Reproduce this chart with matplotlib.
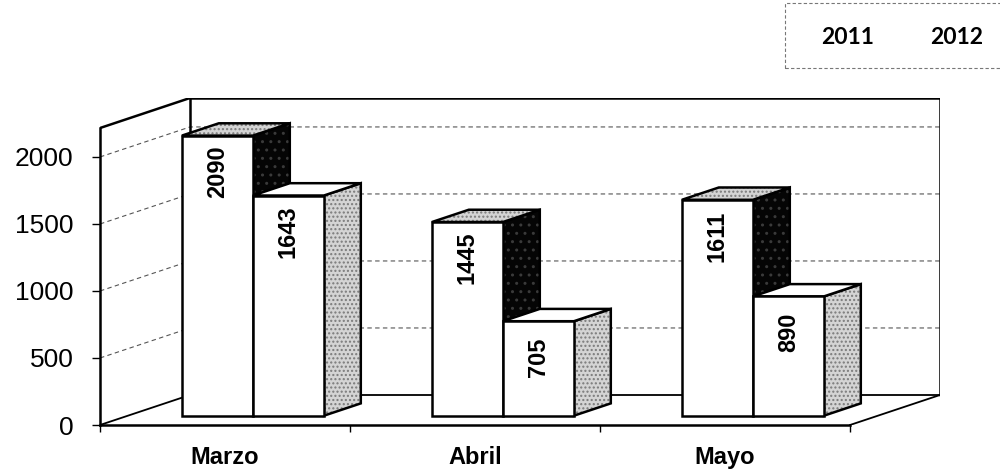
import matplotlib.pyplot as plt
from matplotlib.patches import Polygon, Rectangle

# data
months = ["Marzo", "Abril", "Mayo"]
series_names = ["2011", "2012"]
values_2011 = [2090, 1445, 1611]
values_2012 = [1643, 705, 890]

# pseudo-3D geometry (data units)
bar_w = 0.284
depth_dx, depth_dy = 0.36, 224      # full depth of the floor
bar_front = 0.31                     # where bar fronts sit inside the depth
bar_depth = 0.41                     # bar thickness as share of the depth
wall_top = 2216
yticks = [0, 500, 1000, 1500, 2000]

plt.rcParams["font.family"] = ["Liberation Sans", "DejaVu Sans"]

fig = plt.figure(figsize=(10, 4.69), dpi=100)
ax = fig.add_axes([0.1, 44 / 469, 0.84, 327 / 469])
ax.set_xlim(-0.5, 2.5 + depth_dx)
ax.set_ylim(0, wall_top + depth_dy)

x0, x1 = -0.5, len(months) - 0.5
bx0 = x0 + depth_dx

# walls / box edges
edge = dict(color="black", lw=1.8, zorder=2, solid_capstyle="round")
ax.plot([x0, bx0], [wall_top, wall_top + depth_dy], **edge)
ax.plot([bx0, bx0], [depth_dy, wall_top + depth_dy], **edge)
ax.plot([bx0, x1 + depth_dx], [wall_top + depth_dy] * 2, **edge)
ax.plot([x1 + depth_dx] * 2, [depth_dy, wall_top + depth_dy], **edge)
ax.plot([x0, bx0], [0, depth_dy], color="black", lw=1.3, zorder=2)
ax.plot([bx0, x1 + depth_dx], [depth_dy, depth_dy], color="black", lw=1.3, zorder=2)
ax.plot([x1, x1 + depth_dx], [0, depth_dy], color="black", lw=1.3, zorder=2)

# gridlines on left and back walls
for v in yticks[1:]:
    ax.plot([x0, bx0, x1 + depth_dx], [v, v + depth_dy, v + depth_dy],
            color="#555555", lw=0.8, ls=(0, (4, 3)), zorder=1)

ddx, ddy = bar_depth * depth_dx, bar_depth * depth_dy
base = bar_front * depth_dy
shift = bar_front * depth_dx


def draw_bar(x, v, side_style, top_style):
    top = base + v
    side = Polygon([(x + bar_w, base), (x + bar_w + ddx, base + ddy),
                    (x + bar_w + ddx, top + ddy), (x + bar_w, top)], **side_style)
    lid = Polygon([(x, top), (x + ddx, top + ddy),
                   (x + bar_w + ddx, top + ddy), (x + bar_w, top)], **top_style)
    for p in (side, lid):
        ax.add_patch(p)
        ax.add_patch(Polygon(p.get_xy(), fill=False, ec="black", lw=1.8, zorder=p.get_zorder()))
    ax.bar(x, v, width=bar_w, bottom=base, align="edge", color="white",
           edgecolor="black", linewidth=1.8, zorder=p.get_zorder() + 0.5)
    ax.annotate(str(v), (x + bar_w / 2, top), xytext=(0, -26), textcoords="offset points",
                rotation=90, ha="center", va="center", fontsize=17, fontweight="bold",
                zorder=p.get_zorder() + 0.6)


dark = dict(facecolor="#050505", edgecolor="#3a3a3a", hatch="..", lw=0)
stipple = dict(facecolor="#d4d4d4", edgecolor="#7a7a7a", hatch="....", lw=0)
plain = dict(facecolor="white", lw=0)

for i in range(len(months)):
    z = 3 + i * 2
    draw_bar(i - bar_w + shift, values_2011[i],
             dict(dark, zorder=z), dict(stipple, zorder=z))
    draw_bar(i + shift, values_2012[i],
             dict(stipple, zorder=z + 1), dict(plain, zorder=z + 1))

# axes styling
for s in ("top", "right"):
    ax.spines[s].set_visible(False)
ax.spines["left"].set_bounds(0, wall_top)
ax.spines["bottom"].set_bounds(x0, x1)
ax.spines["left"].set_linewidth(1.8)
ax.spines["bottom"].set_linewidth(1.8)
ax.set_yticks(yticks)
ax.tick_params(axis="y", length=6, width=1, pad=13, labelsize=19)
ax.set_xticks(range(len(months)))
ax.set_xticklabels(months, fontsize=17, fontweight="bold")
ax.set_xticks([x0 + k for k in range(len(months) + 1)], minor=True)
ax.tick_params(axis="x", which="major", length=0, pad=15)
ax.tick_params(axis="x", which="minor", length=5, width=1)

# legend box (text only, dashed frame)
fig.patches.append(Rectangle((785 / 1000, 1 - 68 / 469), 0.25, 65 / 469,
                             transform=fig.transFigure, fill=False, ec="#777777",
                             lw=0.8, ls=(0, (3, 2))))
for name, xp in zip(series_names, [848, 957]):
    fig.text(xp / 1000, 1 - 38 / 469, name, ha="center", va="center",
             fontsize=16.5, fontweight="bold", family=["Lato", "DejaVu Sans"])

fig.savefig("out.png", dpi=100)
